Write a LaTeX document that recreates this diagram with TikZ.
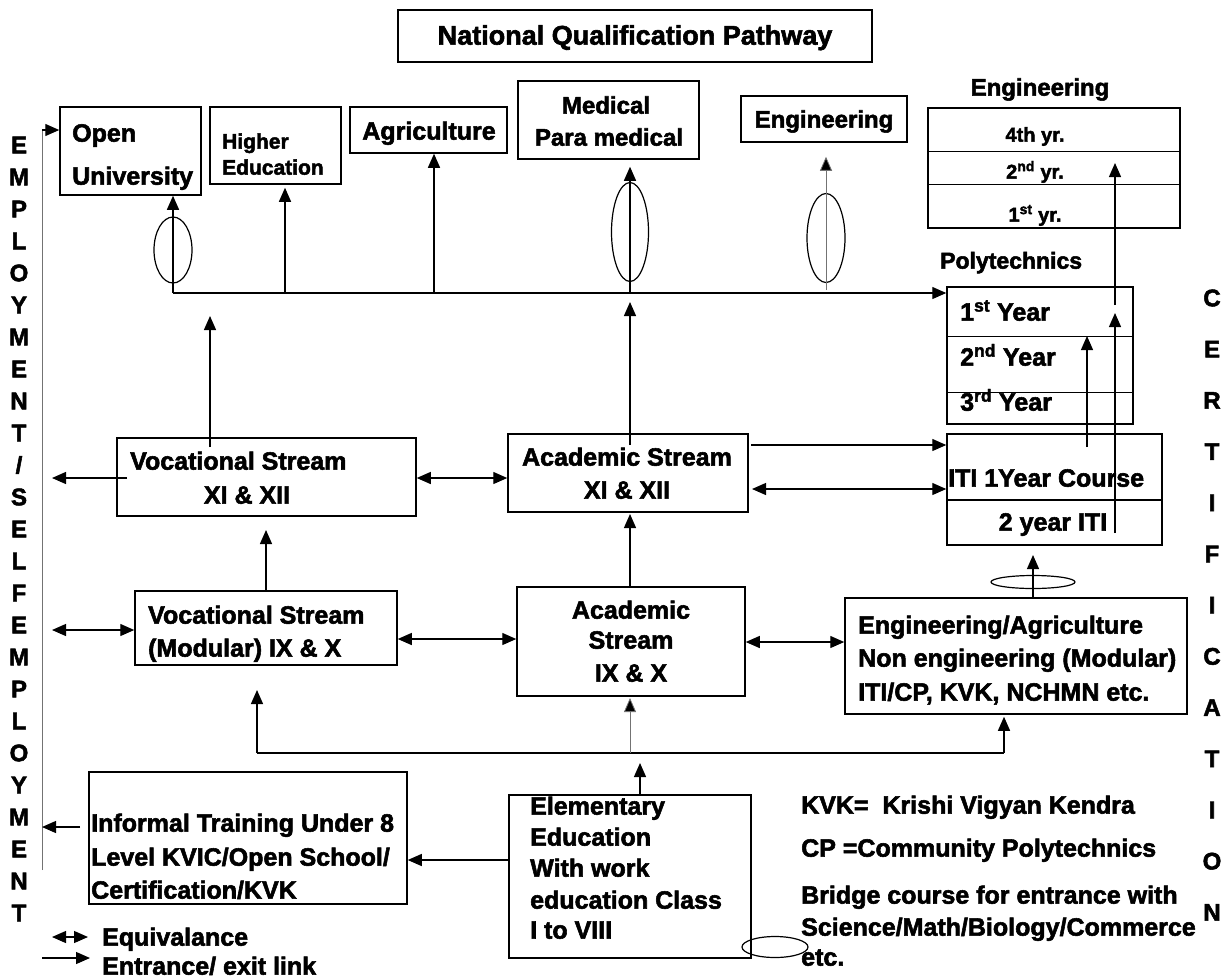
\documentclass[tikz,border=0pt]{standalone}
\usepackage{fontspec}
\setmainfont{Liberation Sans}[BoldFeatures={FakeBold=2.2}]
\usetikzlibrary{arrows.meta,shapes.geometric}
\begin{document}
\begin{tikzpicture}[x=1pt,y=-1pt,
  box/.style={draw, line width=1.5pt, inner sep=0pt},
  txt/.style={inner sep=0pt, yshift=-8pt, font=\fontsize{25}{30}\selectfont\bfseries},
  txtw/.style={txt, anchor=mid west},
  side/.style={inner sep=0pt, font=\fontsize{24}{26}\selectfont\bfseries},
  ln/.style={line width=1.3pt},
  arr/.style={line width=1.3pt, -{Triangle[length=14pt,width=12pt]}},
  darr/.style={line width=1.3pt, {Triangle[length=14pt,width=12pt]}-{Triangle[length=14pt,width=12pt]}},
  thinln/.style={line width=0.8pt, draw=black!55},
  thinarr/.style={line width=0.8pt, draw=black!55, -{Triangle[length=14pt,width=12pt,fill=black]}},
  ell/.style={draw, ellipse, line width=1.2pt, inner sep=0pt}
]
\useasboundingbox (0,0) rectangle (1226,978);

% ---------- boxes ----------
\node[box, minimum width=474pt, minimum height=52pt] (title) at (635,36) {};
\node[box, minimum width=141pt, minimum height=88pt] (openu) at (130.5,151) {};
\node[box, minimum width=131pt, minimum height=77pt] (higher) at (275.5,145.5) {};
\node[box, minimum width=157pt, minimum height=46pt] (agri) at (428.5,130) {};
\node[box, minimum width=181pt, minimum height=78pt] (med) at (608.5,120) {};
\node[box, minimum width=166pt, minimum height=46pt] (engb) at (824,119) {};
\node[box, minimum width=252pt, minimum height=120pt] (engyr) at (1054,168) {};
\node[box, minimum width=186pt, minimum height=137pt] (poly) at (1040,355.5) {};
\node[box, minimum width=215pt, minimum height=111pt] (iti) at (1054.5,489.5) {};
\node[box, minimum width=299pt, minimum height=78pt] (vocxi) at (266.5,477) {};
\node[box, minimum width=240pt, minimum height=78pt] (acadxi) at (628,473) {};
\node[box, minimum width=262pt, minimum height=74pt] (vocix) at (266,628) {};
\node[box, minimum width=228pt, minimum height=109pt] (acadix) at (631,641.5) {};
\node[box, minimum width=342pt, minimum height=116pt] (engagri) at (1016,656) {};
\node[box, minimum width=318pt, minimum height=132pt] (informal) at (248,838) {};
\node[box, minimum width=242pt, minimum height=163pt] (elem) at (630,876.5) {};

% inner dividing lines
\draw[line width=0.7pt] (engyr.west |- 0,151) -- (engyr.east |- 0,151);
\draw[line width=0.7pt] (engyr.west |- 0,184) -- (engyr.east |- 0,184);
\draw[line width=0.7pt] (poly.west |- 0,336) -- (poly.east |- 0,336);
\draw[line width=0.7pt] (poly.west |- 0,392) -- (poly.east |- 0,392);
\draw[line width=1.2pt] (iti.west |- 0,500) -- (iti.east |- 0,500);

% ---------- texts ----------
\node[txt, font=\fontsize{27}{30}\selectfont\bfseries, anchor=mid] (ttitle) at (635,34) {National Qualification Pathway};
\node[txtw] (topen) at (72,131) {Open};
\node[txtw] (tuniv) at (72,174) {University};
\node[txtw, font=\fontsize{21}{25}\selectfont\bfseries] (thigh) at (222,138) {Higher};
\node[txtw, font=\fontsize{21}{25}\selectfont\bfseries] (tedu) at (222,164) {Education};
\node[txt, anchor=mid] (tagri) at (429,129) {Agriculture};
\node[txt, font=\fontsize{24}{28}\selectfont\bfseries, anchor=mid] (tmed1) at (606,103) {Medical};
\node[txt, font=\fontsize{24}{28}\selectfont\bfseries, anchor=mid] (tmed2) at (609,135) {Para medical};
\node[txt, font=\fontsize{24}{28}\selectfont\bfseries, anchor=mid] (teng) at (824,117) {Engineering};
\node[txt, font=\fontsize{24}{28}\selectfont\bfseries, anchor=mid] (tengt) at (1040,85) {Engineering};
\node[txt, font=\fontsize{20}{24}\selectfont\bfseries, anchor=mid] (t4) at (1035,131) {4th yr.};
\node[txt, font=\fontsize{20}{24}\selectfont\bfseries, anchor=mid] (t2) at (1035,168) {2\textsuperscript{nd} yr.};
\node[txt, font=\fontsize{20}{24}\selectfont\bfseries, anchor=mid] (t1) at (1035,211) {1\textsuperscript{st} yr.};
\node[txtw, font=\fontsize{23}{28}\selectfont\bfseries] (tpoly) at (940,258) {Polytechnics};
\node[txtw] (ty1) at (960,310) {1\textsuperscript{st} Year};
\node[txtw] (ty2) at (960,355) {2\textsuperscript{nd} Year};
\node[txtw] (ty3) at (960,400) {3\textsuperscript{rd} Year};
\node[txtw] (titi1) at (948,476) {ITI 1Year Course};
\node[txt, anchor=mid] (titi2) at (1053,520) {2 year ITI};
\node[txtw] (tvx1) at (130,459) {Vocational Stream};
\node[txt, anchor=mid] (tvx2) at (247,493) {XI \& XII};
\node[txt, anchor=mid] (tax1) at (627,455) {Academic Stream};
\node[txt, anchor=mid] (tax2) at (627,488) {XI \& XII};
\node[txtw] (tvm1) at (148,613) {Vocational Stream};
\node[txtw] (tvm2) at (148,646) {(Modular) IX \& X};
\node[txt, anchor=mid] (tai1) at (631,608) {Academic};
\node[txt, anchor=mid] (tai2) at (631,638) {Stream};
\node[txt, anchor=mid] (tai3) at (631,671) {IX \& X};
\node[txtw] (tea1) at (858,623) {Engineering/Agriculture};
\node[txtw] (tea2) at (858,656) {Non engineering (Modular)};
\node[txtw] (tea3) at (858,690) {ITI/CP, KVK, NCHMN etc.};
\node[txtw] (tin1) at (91,821) {Informal Training Under 8};
\node[txtw] (tin2) at (91,855) {Level KVIC/Open School/};
\node[txtw] (tin3) at (91,888) {Certification/KVK};
\node[txtw] (tel1) at (530,804) {Elementary};
\node[txtw] (tel2) at (530,835) {Education};
\node[txtw] (tel3) at (530,866) {With work};
\node[txtw] (tel4) at (530,898) {education Class};
\node[txtw] (tel5) at (530,928) {I to VIII};
\node[txtw] (tk1) at (801,803) {KVK=\ \ Krishi Vigyan Kendra};
\node[txtw] (tk2) at (801,846) {CP =Community Polytechnics};
\node[txtw] (tk3) at (801,893) {Bridge course for entrance with};
\node[txtw] (tk4) at (801,925) {Science/Math/Biology/Commerce};
\node[txtw] (tk5) at (801,955) {etc.};
\node[txtw] (tlg1) at (102,935) {Equivalance};
\node[txtw] (tlg2) at (102,964) {Entrance/ exit link};

% side letters
\foreach \myl [count=\i from 0] in {E,M,P,L,O,Y,M,E,N,T,/,S,E,L,F,E,M,P,L,O,Y,M,E,N,T}
  \node[side] (emp\i) at (19,145+32*\i) {\myl};
\foreach \myl [count=\i from 0] in {C,E,R,T,I,F,I,C,A,T,I,O,N}
  \node[side] (cert\i) at (1212,298+51.2*\i) {\myl};

% ---------- ellipses ----------
\node[ell, minimum width=38pt, minimum height=66pt] (e1) at (173,250) {};
\node[ell, minimum width=37pt, minimum height=99pt] (e2) at (630,232) {};
\node[ell, minimum width=38pt, minimum height=89pt] (e3) at (826,238) {};
\node[ell, minimum width=84pt, minimum height=13pt] (e4) at (1033,582) {};
\node[ell, minimum width=66pt, minimum height=21pt] (e5) at (775,947) {};

% ---------- coordinates ----------
\coordinate (empTop) at (42,130);
\coordinate (empBot) at (42,870);
\coordinate (hl) at (173,293);
\coordinate (hh) at (285,293);
\coordinate (ha) at (434,293);
\coordinate (hm) at (630,293);
\coordinate (he) at (826,290);
\coordinate (vx1) at (210,447);
\coordinate (vx2) at (210,316);
\coordinate (ax1) at (630,445);
\coordinate (ax2) at (630,302);
\coordinate (vl1) at (127,478);
\coordinate (vl2) at (52,478);
\coordinate (ai1) at (751,445);
\coordinate (ai2) at (752,489);
\coordinate (p1a) at (1087,447);
\coordinate (p1b) at (1087,336);
\coordinate (p2a) at (1115,533);
\coordinate (p2b) at (1115,313);
\coordinate (p3a) at (1115,305);
\coordinate (p3b) at (1115,163);
\coordinate (ea1) at (1033,598);
\coordinate (ea2) at (1033,555);
\coordinate (vm1) at (266,591);
\coordinate (vm2) at (266,530);
\coordinate (lm) at (52,630);
\coordinate (am1) at (630,587);
\coordinate (am2) at (630,514);
\coordinate (bL) at (257,753);
\coordinate (bR) at (1004,753);
\coordinate (bLt) at (257,690);
\coordinate (bM) at (630,753);
\coordinate (bMt) at (630,698);
\coordinate (el1) at (640,795);
\coordinate (el2) at (640,763);
\coordinate (inL1) at (80,827);
\coordinate (inL2) at (42,827);
\coordinate (lgA1) at (52,937);
\coordinate (lgA2) at (88,937);
\coordinate (lgB1) at (42,958);
\coordinate (lgB2) at (90,958);

% ---------- connectors ----------
\draw[thinln] (empBot) -- (empTop);
\draw[arr] (empTop) -- (openu.west |- empTop);

\draw[arr] (hl) -- (poly.west |- hl);
\draw[arr] (hl) -- (hl |- openu.south);
\draw[arr] (hh) -- ([yshift=-3pt]hh |- higher.south);
\draw[arr] (ha) -- (ha |- agri.south);
\draw[arr] (hm) -- ([yshift=-7pt]hm |- med.south);
\draw[thinarr] (he) -- ([yshift=-14pt]he |- engb.south);

\draw[arr] (vx1) -- (vx2);
\draw[arr] (ax1) -- (ax2);
\draw[arr] (vl1) -- (vl2);
\draw[darr] (vocxi.east |- 0,478) -- (acadxi.west |- 0,478);
\draw[arr] (ai1) -- (ai1 -| iti.west);
\draw[darr] (ai2) -- (ai2 -| iti.west);

\draw[arr] (p1a) -- (p1b);
\draw[arr] (p2a) -- (p2b);
\draw[arr] (p3a) -- (p3b);
\draw[arr] (ea1) -- (ea2);

\draw[arr] (vm1) -- (vm2);
\draw[darr] (lm) -- (lm -| vocix.west);
\draw[darr] (vocix.east |- 0,639) -- (acadix.west |- 0,639);
\draw[arr] (am1) -- (am2);
\draw[darr] (acadix.east |- 0,642) -- (engagri.west |- 0,642);

\draw[ln] (bL) -- (bR);
\draw[arr] (bL) -- (bLt);
\draw[arr] (bR) -- ([yshift=-2pt]bR |- engagri.south);
\draw[thinarr] (bM) -- (bMt);
\draw[arr] (el1) -- (el2);
\draw[arr] (elem.west |- 0,860) -- (informal.east |- 0,860);
\draw[arr] (inL1) -- (inL2);

\draw[darr] (lgA1) -- (lgA2);
\draw[arr] (lgB1) -- (lgB2);
\end{tikzpicture}
\end{document}
